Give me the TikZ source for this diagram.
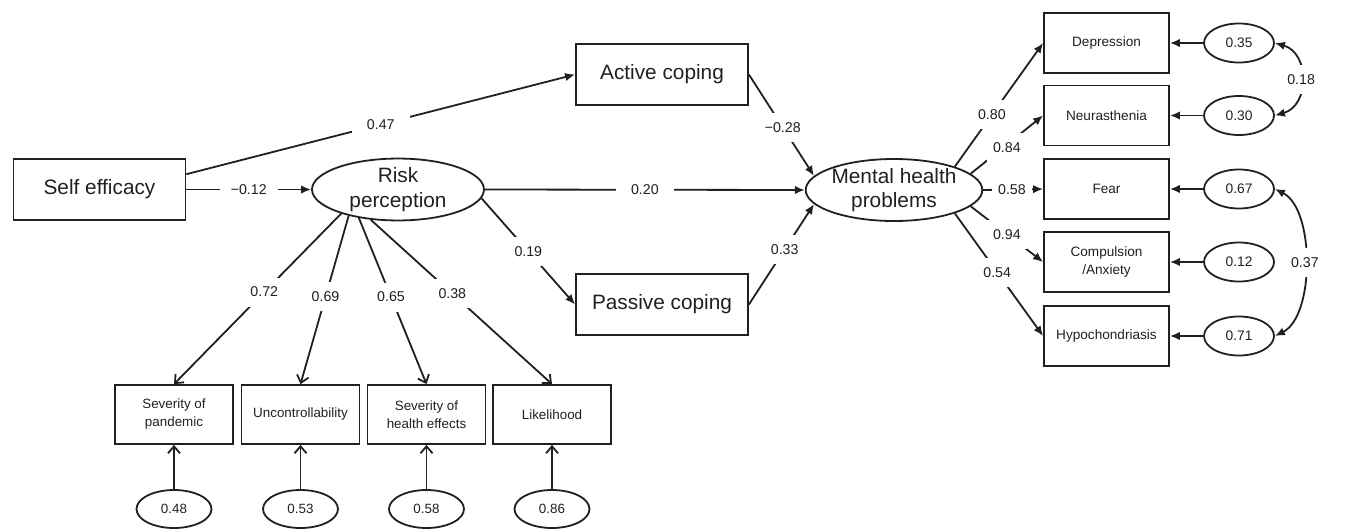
\documentclass[tikz,border=0pt]{standalone}
\usepackage{fontspec}
\setmainfont{Liberation Sans}
\usetikzlibrary{shapes.geometric,arrows.meta}
\definecolor{ink}{RGB}{35,31,32}
\begin{document}
\begin{tikzpicture}[x=0.5pt,y=-0.5pt,
  every node/.append style={text=ink},
  box/.style={draw=ink,line width=0.9pt,rectangle,inner sep=0pt,align=center},
  bigbox/.style={box,minimum width=86pt,minimum height=30.5pt,font=\fontsize{10.4pt}{12.5pt}\selectfont},
  bigell/.style={draw=ink,line width=0.9pt,ellipse,inner sep=0pt,align=center,font=\fontsize{10.4pt}{12.2pt}\selectfont},
  rbox/.style={box,minimum width=62.5pt,minimum height=30pt,font=\fontsize{6.8pt}{9pt}\selectfont},
  bbox/.style={box,minimum width=59pt,minimum height=29.5pt,font=\fontsize{6.7pt}{9pt}\selectfont},
  rerr/.style={draw=ink,line width=0.9pt,ellipse,inner sep=0pt,minimum width=35pt,minimum height=19.5pt,font=\fontsize{6.9pt}{8pt}\selectfont},
  berr/.style={draw=ink,line width=0.9pt,ellipse,inner sep=0pt,minimum width=37.5pt,minimum height=19pt,font=\fontsize{6.7pt}{8pt}\selectfont},
  lab/.style={fill=white,inner sep=0pt,minimum width=29pt,minimum height=14.5pt,font=\fontsize{7.1pt}{8pt}\selectfont},
  rlab/.style={lab,minimum width=20pt},
  farrow/.style={draw=ink,line width=0.9pt,-{Latex[length=5pt,width=4.2pt]}},
  oarrow/.style={draw=ink,line width=0.9pt,-{Straight Barb[length=3.5pt,width=6pt]}},
  cov/.style={draw=ink,line width=0.9pt,{Latex[length=5pt,width=4.2pt]}-{Latex[length=5pt,width=4.2pt]}}
]
\useasboundingbox (0,0) rectangle (1370,530);

% main nodes
\node[bigbox] (se) at (99.5,189.5) {Self efficacy};
\node[bigell,minimum width=86pt,minimum height=30.5pt] (rp) at (398,189.5) {Risk\\perception};
\node[bigbox] (ac) at (662,74.5) {Active coping};
\node[bigbox] (pc) at (662,304.5) {Passive coping};
\node[bigell,minimum width=79pt,minimum height=31pt] (mh) at (894,190) {Mental health\\problems};

% right indicators
\node[rbox] (dep) at (1106.5,43) {Depression};
\node[rbox] (neu) at (1106.5,115.5) {Neurasthenia};
\node[rbox] (fea) at (1106.5,189) {Fear};
\node[rbox] (com) at (1106.5,262) {Compulsion\\/Anxiety};
\node[rbox] (hyp) at (1106.5,336) {Hypochondriasis};

\node[rerr] (e1) at (1239,43) {0.35};
\node[rerr] (e2) at (1239,115.5) {0.30};
\node[rerr] (e3) at (1239,189) {0.67};
\node[rerr] (e4) at (1239,262) {0.12};
\node[rerr] (e5) at (1239,336) {0.71};

% bottom indicators
\node[bbox] (b1) at (174,414.5) {Severity of\\pandemic};
\node[bbox] (b2) at (300.5,414.5) {Uncontrollability};
\node[bbox] (b3) at (426.5,414.5) {Severity of\\health effects};
\node[bbox] (b4) at (552,414.5) {Likelihood};

\node[berr] (u1) at (174,509) {0.48};
\node[berr] (u2) at (300.5,509) {0.53};
\node[berr] (u3) at (426.5,509) {0.58};
\node[berr] (u4) at (552,509) {0.86};

% structural paths
\draw[farrow] (se.10) -- node[lab,pos=0.5] {0.47} (ac.west);
\draw[farrow] (se.east) -- node[lab,pos=0.5] {−0.12} (rp.west);
\draw[farrow] (rp.east) -- node[lab,pos=0.5] {0.20} (mh.west);
\draw[farrow] (rp.-6) -- node[lab,pos=0.5] {0.19} (pc.west);
\draw[farrow] (ac.east) -- node[lab,pos=0.52] {−0.28} (mh.170);
\draw[farrow] (pc.east) -- node[lab,pos=0.55] {0.33} (mh.190);

% loadings of mental health problems
\draw[farrow] (mh.21) -- node[rlab,pos=0.42] {0.80} (dep.west);
\draw[farrow] (mh.12) -- node[rlab,pos=0.5,yshift=-1.5pt] {0.84} (neu.west);
\draw[farrow] (mh.east) -- node[rlab,pos=0.48] {0.58} (fea.west);
\draw[farrow] (mh.-12) -- node[rlab,pos=0.5] {0.94} (com.west);
\draw[farrow] (mh.-21) -- node[rlab,pos=0.48] {0.54} (hyp.west);

% right error terms
\draw[farrow] (e1) -- (dep);
\draw[farrow] (e2) -- (neu);
\draw[farrow] (e3) -- (fea);
\draw[farrow] (e4) -- (com);
\draw[farrow] (e5) -- (hyp);

% covariances
\draw[cov] (e1.east) .. controls +(35,10) and +(35,-10) .. node[rlab,pos=0.5] {0.18} (e2.east);
\draw[cov] (e3.east) .. controls +(40,20) and +(40,-20) .. node[rlab,pos=0.5] {0.37} (e5.east);

% loadings of risk perception
\draw[oarrow] (rp.203) -- node[lab,pos=0.46] {0.72} (b1.north);
\draw[oarrow] (rp.208) -- node[lab,pos=0.48] {0.69} (b2.north);
\draw[oarrow] (rp.216) -- node[lab,pos=0.476] {0.65} (b3.north);
\draw[oarrow] (rp.228) -- node[lab,pos=0.45] {0.38} (b4.north);

% bottom error terms
\draw[oarrow] (u1) -- (b1);
\draw[oarrow] (u2) -- (b2);
\draw[oarrow] (u3) -- (b3);
\draw[oarrow] (u4) -- (b4);
\end{tikzpicture}
\end{document}
